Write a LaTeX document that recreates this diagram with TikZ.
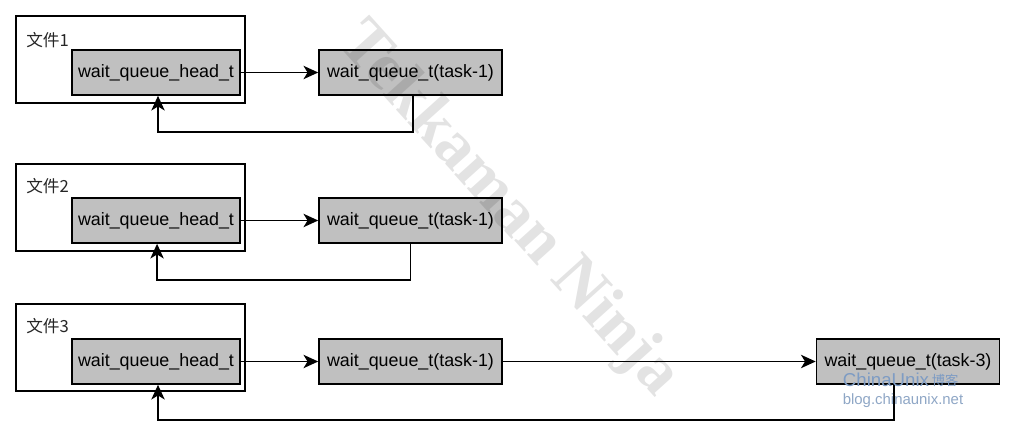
\documentclass[tikz,border=0pt]{standalone}
\usepackage{fontspec}
\setmainfont{Liberation Sans}
\newfontfamily\cjk{Noto Sans CJK SC}
\newfontfamily\wmfont{Liberation Serif}
\usetikzlibrary{arrows.meta,fit,calc}
\definecolor{boxgray}{HTML}{C0C0C0}
\definecolor{cublue}{HTML}{7E9CC4}
\definecolor{cublue2}{HTML}{8FA7C6}
\begin{document}
\begin{tikzpicture}[x=0.75pt,y=-0.75pt,
  filebox/.style={draw=black, line width=1.1pt, inner sep=0pt},
  qbox/.style={draw=black, line width=1.2pt, fill=boxgray, minimum height=33.75pt, inner sep=0pt,
    font=\fontsize{13.4pt}{15pt}\selectfont},
  headbox/.style={qbox, minimum width=126pt},
  taskbox/.style={qbox, minimum width=137.25pt},
  flabel/.style={anchor=west, inner sep=0pt, font=\cjk\fontsize{12.5pt}{14pt}\selectfont, text=black!85},
  conn/.style={line width=1.2pt, -{Stealth[length=11pt,width=10pt,inset=3pt]}},
  wmark/.style={text=black, opacity=0.11, font=\wmfont\bfseries\fontsize{50pt}{54pt}\selectfont, rotate=-48},
  logo/.style={inner sep=0pt}]
\fill[white] (0,0) rectangle (1014,435);
\useasboundingbox (0,0) rectangle (1014,435);

% ---- file 1 ----
\node[filebox, fit={(16,16) (245,103)}] (f1) {};
\node[flabel] (l1) at (26,40) {文件1};
\node[headbox] (h1) at (156,72.5) {wait\_queue\_head\_t};
\node[taskbox] (t1) at (410.5,72.5) {wait\_queue\_t(task-1)};
\draw[conn] (h1) -- (t1);
\draw[conn] ([xshift=1.9pt]t1.south) -- ++(0,36) -| ([xshift=1.5pt]h1.south);

% ---- file 2 ----
\node[filebox, fit={(16,164) (245,251)}] (f2) {};
\node[flabel] (l2) at (26,186) {文件2};
\node[headbox] (h2) at (156,220.5) {wait\_queue\_head\_t};
\node[taskbox] (t2) at (410.5,220.5) {wait\_queue\_t(task-1)};
\draw[conn] (h2) -- (t2);
\draw[conn] (t2.south) -- ++(0,36) -| ([xshift=0.8pt]h2.south);

% ---- file 3 ----
\node[filebox, fit={(16,304) (245,391)}] (f3) {};
\node[flabel] (l3) at (26,326) {文件3};
\node[headbox] (h3) at (156,361.5) {wait\_queue\_head\_t};
\node[taskbox] (t3a) at (410.5,361.5) {wait\_queue\_t(task-1)};
\node[taskbox] (t3b) at (908,361.5) {wait\_queue\_t(task-3)};
\draw[conn] (h3) -- (t3a);
\draw[conn] (t3a) -- (t3b);
\draw[conn] ([xshift=-10.5pt]t3b.south) -- ++(0,35) -| ([xshift=1.5pt]h3.south);

% ---- watermarks ----
\node[wmark] (wm) at (508,210) {Tekkaman Ninja};
\node[logo, text=cublue, font=\fontsize{14pt}{16pt}\selectfont] (cu) at (886,380) {ChinaUnix};
\node[logo, text=cublue, font=\cjk\fontsize{10pt}{12pt}\selectfont, anchor=west] (bk) at (cu.east) {\,博客};
\node[logo, text=cublue2, font=\fontsize{11.2pt}{13pt}\selectfont] (url) at (903,401) {blog.chinaunix.net};
\end{tikzpicture}
\end{document}
